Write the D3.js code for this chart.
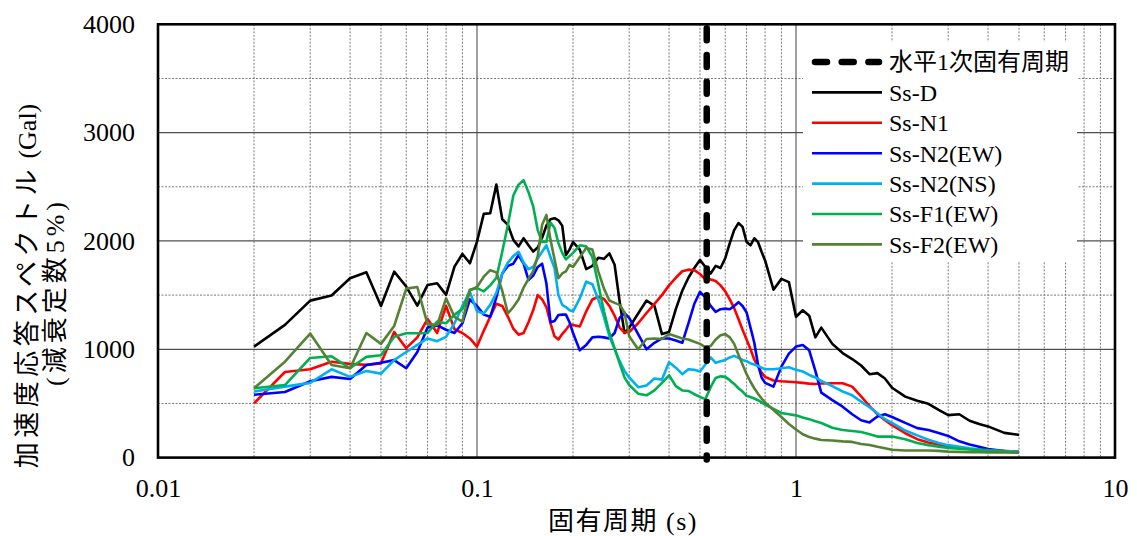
<!DOCTYPE html>
<html>
<head>
<meta charset="utf-8">
<script src="https://cdn.jsdelivr.net/npm/d3@7"></script>
<style>
  body { margin: 0; background: #fff; }
  svg { display: block; }
</style>
</head>
<body>
<svg id="chart"></svg>
<script>
const W = 1137;
const H = 536;
const MARGIN = { top: 24, right: 22, bottom: 78, left: 158 };

// periods (s) shared by all spectra
const periods = [
  0.02, 0.025, 0.03, 0.035, 0.04, 0.045, 0.05, 0.055, 0.06, 0.065, 0.07, 0.075, 0.08, 0.085, 0.09, 0.095, 0.1,
  0.105, 0.11, 0.115, 0.12, 0.125, 0.13, 0.135, 0.14, 0.145, 0.15, 0.155, 0.16, 0.165, 0.17, 0.175, 0.18, 0.185, 0.19, 0.195, 0.2,
  0.21, 0.22, 0.23, 0.24, 0.25, 0.26, 0.27, 0.28, 0.29, 0.30,
  0.32, 0.34, 0.36, 0.38, 0.40, 0.42, 0.44, 0.46, 0.48, 0.50,
  0.52, 0.54, 0.56, 0.58, 0.60, 0.62, 0.64, 0.66, 0.68, 0.70, 0.72, 0.74, 0.76, 0.78, 0.80,
  0.85, 0.90, 0.95, 1.0,
  1.05, 1.1, 1.15, 1.2, 1.3, 1.4, 1.5, 1.6, 1.7, 1.8, 1.9, 2.0,
  2.2, 2.4, 2.6, 2.8, 3.0,
  3.25, 3.5, 3.75, 4.0, 4.5, 5.0
];

const ssD = [
  1025, 1225, 1449, 1496, 1656, 1711, 1400, 1717, 1579, 1403, 1594, 1610, 1502, 1763, 1880, 1794, 1994,
  2250, 2256, 2520, 2200, 2148, 2010, 1950, 2025, 1960, 1902, 1940, 2030, 2140, 2200, 2210, 2190, 2140, 1870, 1920, 1990,
  1920, 1740, 1770, 1845, 1835, 1885, 1780, 1440, 1150, 1200,
  1330, 1450, 1400, 1140, 1160, 1370, 1540, 1660, 1750, 1825,
  1760, 1700, 1770, 1750, 1840, 1980, 2100, 2165, 2130, 1990, 1960, 2025, 1990, 1900, 1820,
  1550, 1650, 1620, 1300,
  1360, 1310, 1110, 1200, 1050, 965, 910, 850, 770, 780, 730, 645,
  563, 525, 496, 440, 392,
  400, 340, 310, 288, 228, 210
];
const ssN1 = [
  500, 790, 815, 885, 865, 856, 870, 1160, 1010, 1110, 1280, 1150, 1400, 1185, 1150, 1100, 1025,
  1170, 1300, 1420, 1400, 1300, 1190, 1135, 1150, 1250, 1360, 1500, 1460, 1390, 1240, 1120, 1090, 1140, 1180, 1225, 1225,
  1210, 1350, 1460, 1485, 1465, 1400, 1310, 1200, 1155, 1160,
  1240, 1335, 1420, 1500, 1590, 1660, 1720, 1735, 1730, 1695,
  1645, 1645, 1630, 1590, 1535, 1460, 1380, 1280, 1180, 1090, 1000, 905, 845, 785, 745,
  712, 705, 700, 695,
  690, 683, 680, 684, 687, 687, 655, 565, 475, 400, 345, 300,
  225, 170, 140, 120, 105,
  95, 80, 75, 68, 60, 55
];
const ssN2EW = [
  580, 605, 705, 745, 725, 855, 875, 900, 825, 975, 1200, 1220, 1180, 1150, 1240, 1460, 1400,
  1320, 1300, 1480, 1700, 1770, 1790, 1870, 1790, 1640, 1680, 1760, 1790, 1610, 1250, 1260, 1317, 1320, 1320, 1250, 1150,
  990, 1040, 1110, 1115, 1110, 1100, 1150, 1290, 1333, 1290,
  1140, 1000, 1060, 1100, 1100, 1080, 1060, 1240, 1420, 1530,
  1480, 1400, 1345, 1370, 1375, 1370, 1400, 1435, 1400, 1340, 1200, 1060, 860, 740, 690,
  655, 840, 960, 1025,
  1040, 990, 800, 600, 530, 470, 400, 345, 325, 380, 400, 375,
  320, 272, 255, 228, 200,
  150, 120, 100, 80, 60, 50
];
const ssN2NS = [
  610, 655, 690, 815, 745, 800, 775, 900, 975, 1040, 1100, 1075, 1115, 1240, 1400, 1530, 1350,
  1330, 1410, 1520, 1700, 1800, 1860, 1900, 1800, 1740, 1760, 1840, 1900, 1960, 1850, 1750, 1500, 1410, 1390, 1360, 1350,
  1470, 1625, 1600, 1460, 1300, 1120, 1000, 890, 800, 740,
  650, 665, 730, 720, 880, 830, 770, 815, 810, 795,
  860, 925, 875, 890, 902, 925, 939, 920, 902, 890, 870, 860, 845, 830, 815,
  815, 825, 834, 810,
  795, 763, 740, 708, 660, 610, 575, 517, 465, 410, 355, 320,
  250, 205, 165, 135, 115,
  100, 85, 75, 68, 60, 55
];
const ssF1EW = [
  640, 670, 920, 935, 825, 930, 945, 1115, 1148, 1148, 1150, 1255, 1240, 1320, 1370, 1550, 1564,
  1535, 1590, 1660, 1900, 2150, 2420, 2520, 2560, 2450, 2320, 2100, 1990, 1990, 2170, 2120, 1980, 1890, 1830, 1860, 1890,
  1960, 1950, 1850, 1600, 1350, 1150, 1010, 870, 740, 670,
  590, 575, 620, 690, 760, 660, 620, 615, 585, 560,
  540, 650, 735, 750, 745, 715, 680, 640, 610, 570, 560, 545, 530, 510, 490,
  450, 412, 400, 390,
  370, 355, 335, 320, 275, 255, 246, 236, 215, 194, 194, 194,
  170, 135, 115, 100, 90,
  82, 75, 70, 66, 58, 46
];
const ssF2EW = [
  640, 885, 1145, 855, 825, 1150, 1050, 1215, 1560, 1575, 1230, 1225, 1470, 1300, 1255, 1545, 1575,
  1670, 1730, 1710, 1540, 1330, 1390, 1460, 1570, 1650, 1720, 1860, 2150, 2240, 2010, 1830, 1656, 1700, 1720, 1780, 1760,
  1850, 1935, 1920, 1720, 1560, 1450, 1428, 1410, 1340, 1120,
  1000, 1095, 1100, 1095, 1140, 1120, 1100, 1090, 1070, 1050,
  1020, 1030, 1090, 1130, 1140, 1110, 1050, 950, 860, 770, 700, 640, 590, 545, 510,
  440, 375, 310, 260,
  215, 190, 175, 163, 158, 150, 145, 126, 117, 100, 87, 72,
  65, 65, 65, 62, 55,
  53, 50, 50, 48, 47, 46
];

const seriesNames = ["Ss-D", "Ss-N1", "Ss-N2(EW)", "Ss-N2(NS)", "Ss-F1(EW)", "Ss-F2(EW)"];
const seriesValues = [ssD, ssN1, ssN2EW, ssN2NS, ssF1EW, ssF2EW];
const seriesColors = ["#000000", "#ff0000", "#0000ff", "#00b0f0", "#00b050", "#548235"];

const naturalPeriod = 0.525;
const naturalPeriodLabel = "水平1次固有周期";

const xTicks = [0.01, 0.1, 1, 10];
const xTickLabels = ["0.01", "0.1", "1", "10"];
const yTicks = [0, 1000, 2000, 3000, 4000];

const X_TITLE = "固有周期 (s)";
const Y_TITLE_1A = "加速度応答スペクトル";
const Y_TITLE_1B = " (Gal)";
const Y_TITLE_2 = "(減衰定数5%)";

const SERIF = "'Liberation Serif', 'Times New Roman', 'Noto Sans CJK JP', serif";

const svg = d3.select("#chart").attr("width", W).attr("height", H);
svg.append("rect").attr("width", W).attr("height", H).attr("fill", "#fff");

const x = d3.scaleLog().domain([0.01, 10]).range([MARGIN.left, W - MARGIN.right]);
const y = d3.scaleLinear().domain([0, 4000]).range([457.6, 24.3]);
const [x0, x1] = x.range();
const [yb, yt] = y.range();

// grid
const minorX = [];
for (const d of [0.01, 0.1, 1]) for (let k = 2; k <= 9; k++) minorX.push(d * k);
const grid = svg.append("g");
grid.selectAll(".gx-minor").data(minorX).join("line")
  .attr("x1", d => x(d)).attr("x2", d => x(d)).attr("y1", yt).attr("y2", yb)
  .attr("stroke", "#7a7a7a").attr("stroke-width", 1).attr("stroke-dasharray", "2,1.5");
grid.selectAll(".gy-minor").data([500, 1500, 2500, 3500]).join("line")
  .attr("x1", x0).attr("x2", x1).attr("y1", d => y(d)).attr("y2", d => y(d))
  .attr("stroke", "#7a7a7a").attr("stroke-width", 1).attr("stroke-dasharray", "2,1.5");
grid.selectAll(".gx-major").data([0.1, 1]).join("line")
  .attr("x1", d => x(d)).attr("x2", d => x(d)).attr("y1", yt).attr("y2", yb)
  .attr("stroke", "#404040").attr("stroke-width", 1);
grid.selectAll(".gy-major").data([1000, 2000, 3000]).join("line")
  .attr("x1", x0).attr("x2", x1).attr("y1", d => y(d)).attr("y2", d => y(d))
  .attr("stroke", "#505050").attr("stroke-width", 1.2);

// spectra
const line = d3.line().x(d => x(d[0])).y(d => y(d[1]));
seriesValues.forEach((vals, i) => {
  svg.append("path")
    .datum(periods.map((p, j) => [p, vals[j]]))
    .attr("d", line)
    .attr("fill", "none")
    .attr("stroke", seriesColors[i])
    .attr("stroke-width", 2.6)
    .attr("stroke-linejoin", "round");
});

// natural period marker
svg.append("line")
  .attr("x1", x(naturalPeriod)).attr("x2", x(naturalPeriod))
  .attr("y1", yt + 4).attr("y2", yb + 2)
  .attr("stroke", "#000").attr("stroke-width", 6.5)
  .attr("stroke-dasharray", "12,14.7").attr("stroke-linecap", "round");

// frame
svg.append("rect")
  .attr("x", x0).attr("y", yt).attr("width", x1 - x0).attr("height", yb - yt)
  .attr("fill", "none").attr("stroke", "#000").attr("stroke-width", 2.6);

// axes
svg.append("g").attr("transform", `translate(${x0},0)`)
  .call(d3.axisLeft(y).tickValues(yTicks).tickFormat(d3.format("d")).tickSize(0).tickPadding(23))
  .call(ax => ax.select(".domain").remove())
  .call(ax => ax.selectAll("text").attr("font-family", SERIF).attr("font-size", "26px").attr("fill", "#000"));

svg.append("g").attr("transform", `translate(0,${yb})`)
  .call(d3.axisBottom(x).tickValues(xTicks).tickFormat((d, i) => xTickLabels[i]).tickSize(0).tickPadding(21))
  .call(ax => ax.select(".domain").remove())
  .call(ax => ax.selectAll("text").attr("font-family", SERIF).attr("font-size", "26px").attr("fill", "#000"));

svg.append("text")
  .attr("x", 623).attr("y", 530)
  .attr("text-anchor", "middle").attr("font-family", SERIF).attr("font-size", "26px")
  .attr("letter-spacing", "1.5px")
  .text(X_TITLE);

const yt1 = svg.append("text")
  .attr("transform", "translate(36,286) rotate(-90)")
  .attr("text-anchor", "middle").attr("font-family", SERIF).attr("font-size", "26px");
yt1.append("tspan").attr("letter-spacing", "4.5px").text(Y_TITLE_1A);
yt1.append("tspan").text(Y_TITLE_1B);
svg.append("text")
  .attr("transform", "translate(64,292) rotate(-90)")
  .attr("text-anchor", "middle").attr("font-family", SERIF).attr("font-size", "26px")
  .attr("letter-spacing", "4px")
  .text(Y_TITLE_2);

// legend
const leg = svg.append("g");
leg.append("rect").attr("x", 803).attr("y", 42).attr("width", 274).attr("height", 219).attr("fill", "#fff");
const legRows = [
  { label: naturalPeriodLabel, color: "#000", dashed: true },
  ...seriesNames.map((n, i) => ({ label: n, color: seriesColors[i], dashed: false }))
];
legRows.forEach((r, i) => {
  const ly = 62 + i * 30.4;
  const l = leg.append("line").attr("x1", r.dashed ? 815 : 812).attr("x2", r.dashed ? 879 : 882)
    .attr("y1", ly).attr("y2", ly).attr("stroke", r.color);
  if (r.dashed) l.attr("stroke-width", 6.5).attr("stroke-dasharray", "12,14.7").attr("stroke-linecap", "round");
  else l.attr("stroke-width", 2.6);
  leg.append("text").attr("x", 889).attr("y", ly).attr("dy", "0.35em")
    .attr("font-family", SERIF).attr("font-size", "24px").attr("fill", "#000")
    .text(r.label);
});
</script>
</body>
</html>
